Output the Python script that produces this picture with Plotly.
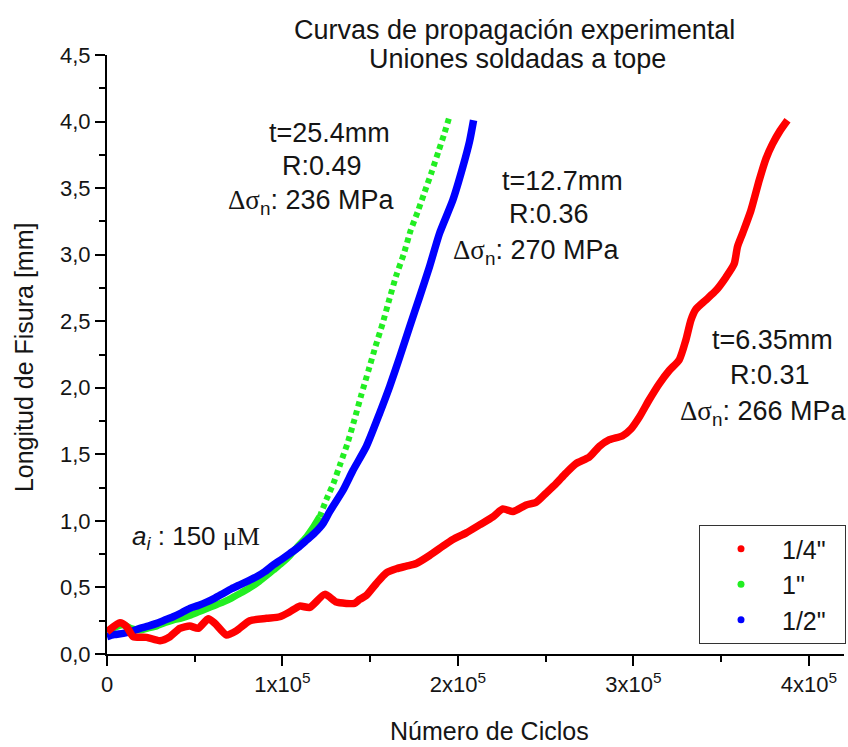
import plotly.graph_objects as go

# ---------------- data (cycles, crack length mm) ----------------
red_x = [0, 7400, 11200, 15000, 22600, 30200, 35900, 41500, 47200, 52000, 57700, 61500,
         68100, 73800, 81400, 90900, 98500, 104200, 109800, 115500, 124100, 130700, 136400,
         141000, 144000, 147800, 153500, 159200, 164900, 170600, 176300, 183800, 191400,
         197100, 204700, 212300, 219900, 225600, 231300, 238900, 244600, 250300, 255900,
         261600, 267300, 274900, 280600, 286300, 293900, 298600, 303400, 309000, 314700,
         320400, 326100, 329900, 332800, 335600, 341300, 347000, 352700, 357400, 359300,
         362200, 366900, 371700, 375500, 379200, 383500, 387800]
red_y = [0.167, 0.235, 0.205, 0.13, 0.125, 0.10, 0.13, 0.193, 0.21, 0.193, 0.265, 0.23,
         0.143, 0.175, 0.25, 0.268, 0.28, 0.317, 0.36, 0.35, 0.448, 0.39, 0.38,
         0.38, 0.41, 0.44, 0.53, 0.61, 0.64, 0.66, 0.68, 0.74, 0.81,
         0.86, 0.91, 0.97, 1.03, 1.09, 1.07, 1.12, 1.14, 1.21, 1.28,
         1.36, 1.43, 1.48, 1.56, 1.61, 1.64, 1.69, 1.78, 1.91, 2.03,
         2.13, 2.21, 2.36, 2.51, 2.59, 2.66, 2.73, 2.83, 2.93, 3.06,
         3.16, 3.33, 3.56, 3.72, 3.83, 3.93, 4.01]

green_x = [0, 4500, 9300, 14000, 18800, 23500, 28300, 33000, 37700, 42500, 47200, 52000,
           56700, 61500, 66200, 71000, 75700, 80500, 85200, 90000, 94700, 99400, 104200,
           108900, 113700, 117500, 121200,
           125000, 129000, 133000, 137000, 141000, 145000, 149000, 153000, 157000, 161000,
           165000, 169000, 173000, 177000, 181000, 185000, 189000, 192000, 195000]
green_y = [0.167, 0.20, 0.22, 0.19, 0.18, 0.195, 0.21, 0.235, 0.255, 0.27, 0.29, 0.315,
           0.34, 0.365, 0.39, 0.42, 0.455, 0.49, 0.53, 0.58, 0.63, 0.68, 0.74,
           0.81, 0.88, 0.95, 1.03,
           1.16, 1.28, 1.43, 1.58, 1.76, 1.95, 2.13, 2.31, 2.48, 2.67,
           2.85, 3.00, 3.18, 3.32, 3.47, 3.62, 3.78, 3.90, 4.03]
green_dense_until = 26  # index where the 1" series stops overlapping into a solid band

blue_x = [0, 4000, 9300, 14000, 18800, 23500, 28300, 33000, 37700, 42500, 47200, 52000,
          56700, 61500, 66200, 71000, 75700, 80500, 85200, 90000, 94700, 99400, 104200,
          108900, 113700, 118400, 123100, 126900, 134500, 140200, 147800, 155400, 161100,
          166800, 172500, 178100, 183800, 189500, 197100, 202800, 206600, 208900]
blue_y = [0.13, 0.145, 0.155, 0.17, 0.193, 0.21, 0.23, 0.255, 0.28, 0.31, 0.343, 0.365,
          0.39, 0.42, 0.455, 0.49, 0.52, 0.55, 0.58, 0.62, 0.668, 0.71, 0.755,
          0.80, 0.855, 0.91, 0.98, 1.07, 1.23, 1.38, 1.56, 1.81, 2.01,
          2.23, 2.46, 2.68, 2.91, 3.16, 3.41, 3.66, 3.85, 4.01]

series_names = ['1/4"', '1"', '1/2"']
series_colors = ["#ff0000", "#22ee22", "#0000ff"]

y_tick_vals = [0, 0.5, 1.0, 1.5, 2.0, 2.5, 3.0, 3.5, 4.0, 4.5]
y_tick_text = ["0,0", "0,5", "1,0", "1,5", "2,0", "2,5", "3,0", "3,5", "4,0", "4,5"]
y_minor_vals = [0.25, 0.75, 1.25, 1.75, 2.25, 2.75, 3.25, 3.75, 4.25]
x_tick_vals = [0, 100000, 200000, 300000, 400000]
x_tick_text = ["0", "1x10<sup>5</sup>", "2x10<sup>5</sup>", "3x10<sup>5</sup>", "4x10<sup>5</sup>"]
x_minor_vals = [50000, 150000, 250000, 350000]

# ---------------- layout geometry ----------------
W, H = 848, 747
ML, MR, MT, MB = 107, 3, 55, 93
PW, PH = W - ML - MR, H - MT - MB


def px(x):
    return (x - ML) / PW


def py(y):
    return (H - MB - y) / PH


SANS = "Liberation Sans, Arial, sans-serif"
TXT = "#151515"
PAD = "\u00a0" * 2  # right padding inside the legend box

fig = go.Figure()

# 1" (green): solid band where points overlap, then dotted
fig.add_trace(go.Scatter(x=green_x[:green_dense_until + 1], y=green_y[:green_dense_until + 1],
                         mode="lines", line=dict(color=series_colors[1], width=7,
                                                 shape="spline", smoothing=0.6),
                         showlegend=False, hoverinfo="skip"))
fig.add_trace(go.Scatter(x=green_x[green_dense_until:], y=green_y[green_dense_until:],
                         mode="lines", line=dict(color=series_colors[1], width=6, dash="5px,4px",
                                                 shape="spline", smoothing=0.6),
                         showlegend=False, hoverinfo="skip"))
# 1/2" (blue)
fig.add_trace(go.Scatter(x=blue_x, y=blue_y, mode="lines",
                         line=dict(color=series_colors[2], width=7.5, shape="spline", smoothing=0.6),
                         showlegend=False, hoverinfo="skip"))
# 1/4" (red)
fig.add_trace(go.Scatter(x=red_x, y=red_y, mode="lines",
                         line=dict(color=series_colors[0], width=7.5, shape="spline", smoothing=0.6),
                         showlegend=False, hoverinfo="skip"))

# legend entries (dots)
for name, col in zip(series_names, series_colors):
    fig.add_trace(go.Scatter(x=[None], y=[None], mode="markers", name=name + PAD,
                             marker=dict(color=col, size=7)))

ann = []


def add_text(text, x, y, size=27, family=SANS, **kw):
    ann.append(dict(text=text, x=px(x), y=py(y), xref="paper", yref="paper",
                    xanchor=kw.pop("xanchor", "center"), yanchor=kw.pop("yanchor", "middle"),
                    showarrow=False, font=dict(family=family, size=size, color=TXT), **kw))


# title
add_text("Curvas de propagación experimental", 515, 30, size=27)
add_text("Uniones soldadas a tope", 518, 59, size=27)

# axis titles
add_text("Número de Ciclos", 490, 731, size=25)
add_text("Longitud de Fisura [mm]", 24, 357, size=25, textangle=-90)

ds = '<span style="font-family:Liberation Serif">Δσ</span><sub>n</sub>'
# t = 25.4 mm
add_text("t=25.4mm", 330, 133)
add_text("R:0.49", 322, 166)
add_text(ds + ": 236 MPa", 311, 202)
# t = 12.7 mm
add_text("t=12.7mm", 563, 181)
add_text("R:0.36", 550, 214)
add_text(ds + ": 270 MPa", 537, 252)
# t = 6.35 mm
add_text("t=6.35mm", 773, 340)
add_text("R:0.31", 771, 375)
add_text(ds + ": 266 MPa", 764, 413)
# initial crack
add_text('<i>a</i><sub><i>i</i></sub> : 150 <span style="font-family:Liberation Serif">μM</span>',
         196, 537, size=26)

axis_common = dict(showline=True, linecolor="black", linewidth=2, ticks="outside",
                   tickcolor="black", tickwidth=2, ticklen=10, showgrid=False,
                   zeroline=False, mirror=False,
                   tickfont=dict(family=SANS, size=22, color=TXT))

fig.update_layout(
    width=W, height=H,
    margin=dict(l=ML, r=MR, t=MT, b=MB, pad=0),
    paper_bgcolor="white", plot_bgcolor="white",
    xaxis=dict(range=[0, 420000], tickmode="array", tickvals=x_tick_vals, ticktext=x_tick_text,
               minor=dict(tickmode="array", tickvals=x_minor_vals, ticks="outside",
                          ticklen=6, tickwidth=2, tickcolor="black"),
               **axis_common),
    yaxis=dict(range=[0, 4.5], tickmode="array", tickvals=y_tick_vals, ticktext=y_tick_text,
               minor=dict(tickmode="array", tickvals=y_minor_vals, ticks="outside",
                          ticklen=6, tickwidth=2, tickcolor="black"),
               **axis_common),
    legend=dict(x=px(846), y=py(525), xanchor="right", yanchor="top",
                bordercolor="#333", borderwidth=1, bgcolor="white",
                font=dict(family=SANS, size=25, color=TXT),
                itemwidth=72, tracegroupgap=0),
    annotations=ann,
    showlegend=True,
)

fig.write_html("out.html")
